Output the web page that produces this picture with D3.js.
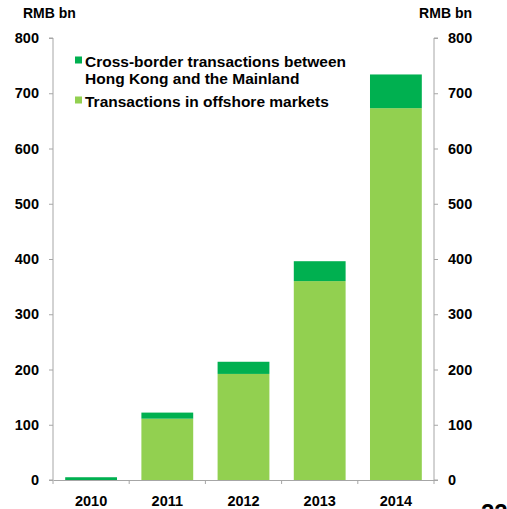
<!DOCTYPE html>
<html>
<head>
<meta charset="utf-8">
<script src="https://cdn.jsdelivr.net/npm/d3@7"></script>
<style>
  html, body { margin: 0; padding: 0; background: #fff; }
  svg { display: block; }
  text { font-family: "Liberation Sans", Arial, sans-serif; font-weight: bold; fill: #000; }
</style>
</head>
<body>
<svg id="chart" width="507" height="509"></svg>
<script>
// ---- data ----
const years = ["2010", "2011", "2012", "2013", "2014"];
const offshore = [0, 111, 192, 360, 673];      // Transactions in offshore markets
const crossBorder = [5, 11, 22, 36, 61];       // Cross-border transactions between HK and the Mainland
const yTicks = [0, 100, 200, 300, 400, 500, 600, 700, 800];
const seriesNames = ["Cross-border transactions between|Hong Kong and the Mainland", "Transactions in offshore markets"];
const unitLabel = "RMB bn";
const pageNumber = "22";

const lightGreen = "#92D050";
const darkGreen = "#00B050";
const axisGrey = "#A6A6A6";

const svg = d3.select("#chart");
const mLeft = 53, mRight = 434, mTop = 38, mBottom = 480;

const x = d3.scaleBand().domain(years).range([mLeft, mRight]).paddingInner(0.32).paddingOuter(0.16);
const y = d3.scaleLinear().domain([0, 800]).range([mBottom, mTop]);

const stackData = years.map((yr, i) => ({ year: yr, offshore: offshore[i], cross: crossBorder[i] }));
const stack = d3.stack().keys(["offshore", "cross"])(stackData);
const colors = { offshore: lightGreen, cross: darkGreen };

svg.append("g").selectAll("g").data(stack).join("g")
  .attr("fill", d => colors[d.key])
  .selectAll("rect").data(d => d).join("rect")
  .attr("x", d => x(d.data.year))
  .attr("width", x.bandwidth())
  .attr("y", d => y(d[1]))
  .attr("height", d => y(d[0]) - y(d[1]));

// left axis
const yAxisL = d3.axisLeft(y).tickValues(yTicks).tickSize(4).tickPadding(10);
const gL = svg.append("g").attr("transform", `translate(${mLeft},0)`).call(yAxisL);
// right axis
const yAxisR = d3.axisRight(y).tickValues(yTicks).tickSize(4).tickPadding(10);
const gR = svg.append("g").attr("transform", `translate(${mRight},0)`).call(yAxisR);
// bottom axis
const xAxis = d3.axisBottom(x).tickSize(0).tickPadding(16);
const gB = svg.append("g").attr("transform", `translate(0,${mBottom})`).call(xAxis);
// boundary ticks on bottom axis
const bounds = [x(years[0]) - x.step() * x.paddingOuter()].concat(years.map(yr => x(yr) + x.bandwidth() + x.step() * x.paddingInner() / 2));
bounds[bounds.length - 1] = mRight;
gB.selectAll("line.bt").data(bounds).join("line").attr("class", "bt")
  .attr("x1", d => d).attr("x2", d => d).attr("y1", 0).attr("y2", 4)
  .attr("stroke", axisGrey).attr("stroke-width", 1);

[gL, gR, gB].forEach(g => {
  g.select(".domain").attr("stroke", axisGrey).attr("stroke-width", 1);
  g.selectAll(".tick line").attr("stroke", axisGrey);
  g.selectAll("text").attr("font-size", 14.5).attr("font-family", null).attr("fill", "#000");
});
gL.select(".domain").attr("d", `M-4,${mTop}H0V${mBottom}H-4`);
gR.select(".domain").attr("d", `M4,${mTop}H0V${mBottom}H4`);

// unit labels
svg.append("text").attr("x", 23).attr("y", 17.5).attr("font-size", 14).text(unitLabel);
svg.append("text").attr("x", 472).attr("y", 17.5).attr("font-size", 14).attr("text-anchor", "end").text(unitLabel);

// legend
const legend = svg.append("g");
const legendItems = [
  { name: seriesNames[0], color: darkGreen, y: 66.5 },
  { name: seriesNames[1], color: lightGreen, y: 106.5 }
];
legendItems.forEach(it => {
  legend.append("rect").attr("x", 75).attr("y", it.y - 10).attr("width", 7).attr("height", 7).attr("fill", it.color);
  const t = legend.append("text").attr("x", 85).attr("y", it.y).attr("font-size", 15.5);
  it.name.split("|").forEach((line, i) => {
    t.append("tspan").attr("x", 85).attr("dy", i === 0 ? 0 : 17).text(line);
  });
});

// page number (partially cropped)
svg.append("text").attr("x", 481).attr("y", 521).attr("font-size", 24).text(pageNumber);
</script>
</body>
</html>
